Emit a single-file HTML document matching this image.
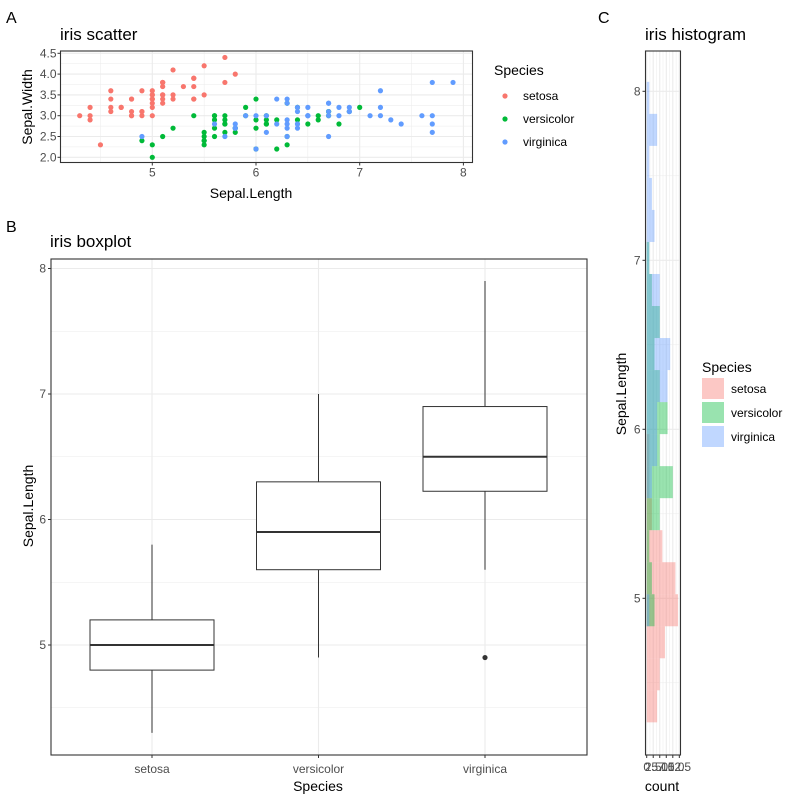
<!DOCTYPE html>
<html><head><meta charset="utf-8"><style>
body{margin:0;background:#fff;}
svg{display:block;font-family:"Liberation Sans",Arial,sans-serif;}
</style></head><body>
<svg id="c" width="800" height="800"></svg>
<script>
// ---------- data ----------
const species = ["setosa","versicolor","virginica"];
const colors = ["#F8766D","#00BA38","#619CFF"];
const setosaSL = [5.1,4.9,4.7,4.6,5.0,5.4,4.6,5.0,4.4,4.9,5.4,4.8,4.8,4.3,5.8,5.7,5.4,5.1,5.7,5.1,5.4,5.1,4.6,5.1,4.8,5.0,5.0,5.2,5.2,4.7,4.8,5.4,5.2,5.5,4.9,5.0,5.5,4.9,4.4,5.1,5.0,4.5,4.4,5.0,5.1,4.8,5.1,4.6,5.3,5.0];
const setosaSW = [3.5,3.0,3.2,3.1,3.6,3.9,3.4,3.4,2.9,3.1,3.7,3.4,3.0,3.0,4.0,4.4,3.9,3.5,3.8,3.8,3.4,3.7,3.6,3.3,3.4,3.0,3.4,3.5,3.4,3.2,3.1,3.4,4.1,4.2,3.1,3.2,3.5,3.6,3.0,3.4,3.5,2.3,3.2,3.5,3.8,3.0,3.8,3.2,3.7,3.3];
const versicolorSL = [7.0,6.4,6.9,5.5,6.5,5.7,6.3,4.9,6.6,5.2,5.0,5.9,6.0,6.1,5.6,6.7,5.6,5.8,6.2,5.6,5.9,6.1,6.3,6.1,6.4,6.6,6.8,6.7,6.0,5.7,5.5,5.5,5.8,6.0,5.4,6.0,6.7,6.3,5.6,5.5,5.5,6.1,5.8,5.0,5.6,5.7,5.7,6.2,5.1,5.7];
const versicolorSW = [3.2,3.2,3.1,2.3,2.8,2.8,3.3,2.4,2.9,2.7,2.0,3.0,2.2,2.9,2.9,3.1,3.0,2.7,2.2,2.5,3.2,2.8,2.5,2.8,2.9,3.0,2.8,3.0,2.9,2.6,2.4,2.4,2.7,2.7,3.0,3.4,3.1,2.3,3.0,2.5,2.6,3.0,2.6,2.3,2.7,3.0,2.9,2.9,2.5,2.8];
const virginicaSL = [6.3,5.8,7.1,6.3,6.5,7.6,4.9,7.3,6.7,7.2,6.5,6.4,6.8,5.7,5.8,6.4,6.5,7.7,7.7,6.0,6.9,5.6,7.7,6.3,6.7,7.2,6.2,6.1,6.4,7.2,7.4,7.9,6.4,6.3,6.1,7.7,6.3,6.4,6.0,6.9,6.7,6.9,5.8,6.8,6.7,6.7,6.3,6.5,6.2,5.9];
const virginicaSW = [3.3,2.7,3.0,2.9,3.0,3.0,2.5,2.9,2.5,3.6,3.2,2.7,3.0,2.5,2.8,3.2,3.0,3.8,2.6,2.2,3.2,2.8,2.8,2.7,3.3,3.2,2.8,3.0,2.8,3.0,2.8,3.8,2.8,2.8,2.6,3.0,3.4,3.1,3.0,3.1,3.1,3.1,2.7,3.2,3.3,3.0,2.5,3.0,3.4,3.0];
// boxplot stats: [lowWhisker, q1, median, q3, highWhisker]
const setosaBox = [4.3,4.8,5.0,5.2,5.8];
const versicolorBox = [4.9,5.6,5.9,6.3,7.0];
const virginicaBox = [5.6,6.225,6.5,6.9,7.9];
const virginicaOutliers = [4.9];
// histogram: 20 bins
const binStart = 4.266, binWidth = 0.1895;
const setosaCounts =     [4,5,7,12,11,6,2,1,1,0,0,0,0,0,0,0,0,0,0,0];
const versicolorCounts = [0,0,0,3,2,1,5,10,5,8,5,3,5,2,1,0,0,0,0,0];
const virginicaCounts =  [0,0,0,1,0,0,0,2,4,4,8,9,5,5,1,3,2,1,4,1];
const scXTicks = [5,6,7,8];
const scYTicks = ["2.0","2.5","3.0","3.5","4.0","4.5"];
const bpYTicks = [5,6,7,8];
const hiXTicks = ["0","2.5","5.0","7.5","10.0","12.5"];

// ---------- helpers ----------
const svg = document.getElementById('c');
const NS = "http://www.w3.org/2000/svg";
function mk(tag, attrs, parent, text){
  const e = document.createElementNS(NS, tag);
  for (const k in attrs) e.setAttribute(k, attrs[k]);
  if (text !== undefined) e.textContent = text;
  (parent || svg).appendChild(e);
  return e;
}
function txt(x,y,s,size,fill,anchor,name,rot){
  const t = mk('text',{x:x,y:y,'font-size':size,fill:fill,'text-anchor':anchor||'start'},svg,s);
  if (rot) t.setAttribute('transform','rotate(-90 '+x+' '+y+')');
  
  
  return t;
}
const GRID="#ebebeb", TICK="#4d4d4d";

// ---------- labels ----------
txt(6,23,"A",16,"#000","start","panel-label-a");
txt(6,232,"B",16,"#000","start","panel-label-b");
txt(598,23,"C",16,"#000","start","panel-label-c");

// ---------- scatter ----------
const sc = {l:60.5,r:472.5,t:51,b:162.5};
const sx = v => 152.3 + (v-5)*103.7;
const sy = v => 157.3 - (v-2)*41.6;
txt(60,40,"iris scatter",17,"#000","start","scatter-title");
const gS = mk('g',{});


for (let v=4.5; v<=8.5; v+=0.5){ const x=sx(v); if(x>sc.l&&x<sc.r) mk('line',{x1:x,x2:x,y1:sc.t,y2:sc.b,stroke:GRID,'stroke-width':(v%1===0)?1.1:0.5},gS); }
for (let v=1.75; v<=4.75; v+=0.25){ const y=sy(v); if(y>sc.t&&y<sc.b) mk('line',{x1:sc.l,x2:sc.r,y1:y,y2:y,stroke:GRID,'stroke-width':(Math.abs(v*2-Math.round(v*2))<1e-6)?1.1:0.5},gS); }
const scX=[setosaSL,versicolorSL,virginicaSL], scY=[setosaSW,versicolorSW,virginicaSW];
for (let s=0;s<3;s++){
  for (let i=0;i<scX[s].length;i++){
    const p = mk('circle',{cx:sx(scX[s][i]),cy:sy(scY[s][i]),r:2.6,fill:colors[s]},gS);
    
    
  }
}
mk('rect',{x:sc.l,y:sc.t,width:sc.r-sc.l,height:sc.b-sc.t,fill:'none',stroke:'#333','stroke-width':1.1},gS);
scXTicks.forEach(v=>{ mk('line',{x1:sx(v),x2:sx(v),y1:sc.b,y2:sc.b+3,stroke:'#333'}); txt(sx(v),sc.b+14,String(v),12,TICK,"middle","x-tick-label"); });
scYTicks.forEach(v=>{ const y=sy(+v); mk('line',{x1:sc.l-3,x2:sc.l,y1:y,y2:y,stroke:'#333'}); txt(sc.l-4,y+4,v,12,TICK,"end","y-tick-label"); });
txt(251,198,"Sepal.Length",14,"#000","middle","scatter-x-axis-title");
txt(32,107,"Sepal.Width",14,"#000","middle","scatter-y-axis-title",true);
txt(494,75,"Species",14,"#000","start","scatter-legend-title");
species.forEach((s,i)=>{
  const y=96+i*23;
  const c=mk('circle',{cx:505,cy:y,r:2.6,fill:colors[i]});
  
  
  txt(523,y+4,s,12,"#000","start","scatter-legend-label");
});

// ---------- boxplot ----------
const bp = {l:51,r:587,t:259,b:755};
const by = v => 645 - (v-5)*125.5;
const cx = [152,318.5,485];
txt(50,247,"iris boxplot",17,"#000","start","boxplot-title");
const gB = mk('g',{});


for (let v=4.5; v<=8; v+=0.5){ const y=by(v); if(y>bp.t&&y<bp.b) mk('line',{x1:bp.l,x2:bp.r,y1:y,y2:y,stroke:GRID,'stroke-width':(v%1===0)?1.1:0.5},gB); }
cx.forEach(x=>mk('line',{x1:x,x2:x,y1:bp.t,y2:bp.b,stroke:GRID,'stroke-width':1.1},gB));
const boxes=[setosaBox,versicolorBox,virginicaBox];
boxes.forEach((b,i)=>{
  const g=mk('g',{},gB);
  
  
  const x=cx[i], hw=62;
  mk('line',{x1:x,x2:x,y1:by(b[0]),y2:by(b[1]),stroke:'#333'},g);
  mk('line',{x1:x,x2:x,y1:by(b[3]),y2:by(b[4]),stroke:'#333'},g);
  mk('rect',{x:x-hw,y:by(b[3]),width:2*hw,height:by(b[1])-by(b[3]),fill:'#fff',stroke:'#333'},g);
  mk('line',{x1:x-hw,x2:x+hw,y1:by(b[2]),y2:by(b[2]),stroke:'#333','stroke-width':2},g);
});
virginicaOutliers.forEach(v=>{
  const o=mk('circle',{cx:cx[2],cy:by(v),r:2.6,fill:'#333'},gB);
  
  
});
mk('rect',{x:bp.l,y:bp.t,width:bp.r-bp.l,height:bp.b-bp.t,fill:'none',stroke:'#333','stroke-width':1.1},gB);
bpYTicks.forEach(v=>{ const y=by(v); mk('line',{x1:bp.l-3,x2:bp.l,y1:y,y2:y,stroke:'#333'}); txt(bp.l-5,y+4,String(v),12,TICK,"end","y-tick-label"); });
species.forEach((s,i)=>{ mk('line',{x1:cx[i],x2:cx[i],y1:bp.b,y2:bp.b+3,stroke:'#333'}); txt(cx[i],bp.b+18,s,12,TICK,"middle","x-tick-label"); });
txt(318,791,"Species",14,"#000","middle","boxplot-x-axis-title");
txt(33,506,"Sepal.Length",14,"#000","middle","boxplot-y-axis-title",true);

// ---------- histogram ----------
const hp = {l:645.5,r:680.5,t:51,b:755};
const hx = v => 646.7 + v*2.61;
const hy = v => 598.3 - (v-5)*169;
txt(645,40,"iris histogram",17,"#000","start","histogram-title");
const gH = mk('g',{});


for (let v=4.5; v<=8; v+=0.5){ const y=hy(v); if(y>hp.t&&y<hp.b) mk('line',{x1:hp.l,x2:hp.r,y1:y,y2:y,stroke:GRID,'stroke-width':(v%1===0)?1.1:0.5},gH); }
for (let v=0; v<=12.5; v+=1.25){ mk('line',{x1:hx(v),x2:hx(v),y1:hp.t,y2:hp.b,stroke:GRID,'stroke-width':(Math.abs(v/2.5-Math.round(v/2.5))<1e-6)?1.1:0.5},gH); }
const counts=[setosaCounts,versicolorCounts,virginicaCounts];
counts.forEach((arr,s)=>{
  arr.forEach((c,k)=>{
    if(!c) return;
    const lo=binStart+k*binWidth, hi=lo+binWidth;
    const r=mk('rect',{x:hx(0),y:hy(hi),width:hx(c)-hx(0),height:hy(lo)-hy(hi),fill:colors[s],'fill-opacity':0.4},gH);
    
    
  });
});
mk('rect',{x:hp.l,y:hp.t,width:hp.r-hp.l,height:hp.b-hp.t,fill:'none',stroke:'#333','stroke-width':1.1},gH);
[5,6,7,8].forEach(v=>{ const y=hy(v); mk('line',{x1:hp.l-3,x2:hp.l,y1:y,y2:y,stroke:'#333'}); txt(hp.l-5,y+4,String(v),12,TICK,"end","y-tick-label"); });
hiXTicks.forEach(v=>{ const x=hx(+v); mk('line',{x1:x,x2:x,y1:hp.b,y2:hp.b+3,stroke:'#333'}); txt(x,hp.b+16,v,12,TICK,"middle","x-tick-label"); });
txt(662,791,"count",14,"#000","middle","histogram-x-axis-title");
txt(626,394,"Sepal.Length",14,"#000","middle","histogram-y-axis-title",true);
txt(702,372,"Species",14,"#000","start","histogram-legend-title");
species.forEach((s,i)=>{
  const y=378+i*24;
  const r=mk('rect',{x:702,y:y,width:22,height:21,fill:colors[i],'fill-opacity':0.4});
  
  
  txt(731,y+15,s,12,"#000","start","histogram-legend-label");
});
</script>
</body></html>
